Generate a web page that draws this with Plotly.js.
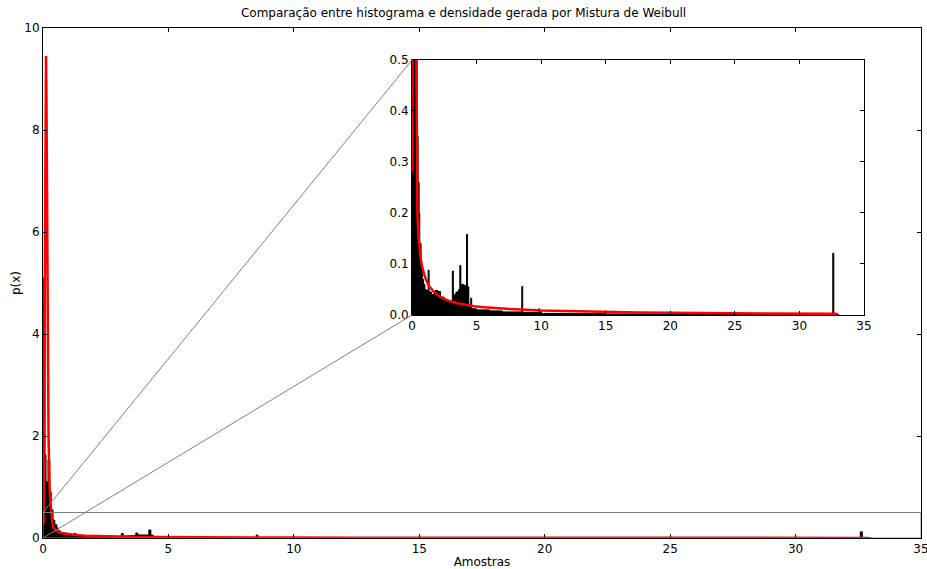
<!DOCTYPE html>
<html>
<head>
<meta charset="utf-8">
<script src="https://cdn.plot.ly/plotly-3.0.1.min.js"></script>
<style>html,body{margin:0;padding:0;background:#fff;}#chart{width:927px;height:569px;}</style>
</head>
<body>
<div id="chart"></div>
<script>
// Histogram: bin edges (left edges + final right edge) and bin heights
const histEdges = [0, 0.03, 0.08, 0.12, 0.2, 0.27, 0.33, 0.4, 0.47, 0.55,
  0.6, 0.7, 0.8, 0.9, 1.0, 1.1, 1.25, 1.32, 1.5, 1.7,
  1.8, 2.0, 2.2, 2.5, 2.8, 3.12, 3.2, 3.4, 3.6, 3.7,
  3.78, 4.0, 4.22, 4.3, 4.4, 4.55, 4.62, 5.0, 6.0, 7.0,
  8.5, 8.57, 9.8, 9.88, 10, 15, 20, 25, 32.58, 32.66, 33.0];
const histHeights = [0.28, 5.1, 1.63, 1.1, 1.53, 0.9, 0.55, 0.35, 0.26, 0.2,
  0.14, 0.1, 0.07, 0.06, 0.05, 0.048, 0.088, 0.045, 0.04, 0.042,
  0.048, 0.046, 0.035, 0.03, 0.028, 0.086, 0.04, 0.045, 0.05, 0.097,
  0.06, 0.058, 0.158, 0.055, 0.02, 0.033, 0.012, 0.01, 0.008, 0.006,
  0.056, 0.005, 0.012, 0.005, 0.003, 0.002, 0.0012, 0.0008, 0.121, 0.002];

// Weibull mixture density curve
const densX = [0.02, 0.05, 0.08, 0.1, 0.12, 0.14, 0.16, 0.19, 0.22, 0.26,
  0.3, 0.34, 0.38, 0.42, 0.48, 0.55, 0.65, 0.77, 1.0, 1.3,
  1.7, 2.2, 2.8, 3.5, 4.2, 4.8, 5.6, 6.6, 8, 10,
  12.5, 15, 17.5, 20, 25, 30, 32.9];
const densY = [0.28, 2.0, 6.0, 8.8, 9.45, 8.5, 6.0, 3.5, 2.0, 1.0,
  0.65, 0.45, 0.3, 0.2, 0.16, 0.135, 0.115, 0.096, 0.075, 0.057,
  0.045, 0.035, 0.028, 0.023, 0.019, 0.017, 0.015, 0.013, 0.011, 0.0086,
  0.007, 0.0058, 0.005, 0.0042, 0.0032, 0.0025, 0.0022];

const mainXTicks = [0, 5, 10, 15, 20, 25, 30, 35];
const mainYTicks = [0, 2, 4, 6, 8, 10];
const insetYTicks = [0.0, 0.1, 0.2, 0.3, 0.4, 0.5];

const titleText = 'Comparação entre histograma e densidade gerada por Mistura de Weibull';
const xTitle = 'Amostras';
const yTitle = 'p(x)';

const mainXRange = [0, 35], mainYRange = [0, 10];
const insetXRange = [0, 35], insetYRange = [0, 0.5];
const insetDomX = [0.4203, 0.9351], insetDomY = [0.4373, 0.9373];

const histY = histHeights.concat([0]);
const FONT = {family: 'DejaVu Sans', size: 12, color: '#000'};

function histTrace(xa, ya) {
  return {x: histEdges, y: histY, xaxis: xa, yaxis: ya, type: 'scatter', mode: 'lines',
    line: {shape: 'hv', color: '#000', width: 1}, fill: 'tozeroy', fillcolor: '#000',
    hoverinfo: 'skip', showlegend: false};
}
function densTrace(xa, ya) {
  return {x: densX, y: densY, xaxis: xa, yaxis: ya, type: 'scatter', mode: 'lines',
    line: {color: '#ff0000', width: 2.5}, hoverinfo: 'skip', showlegend: false};
}

const axisCommon = {showline: true, mirror: 'ticks', linecolor: '#000', linewidth: 1,
  ticks: 'inside', ticklen: 4, tickwidth: 1, tickcolor: '#000', showgrid: false,
  zeroline: false, tickfont: FONT, ticklabeloverflow: 'allow'};

const data = [histTrace('x', 'y'), densTrace('x', 'y'), histTrace('x2', 'y2'), densTrace('x2', 'y2')];

// connector geometry (paper coords) from main-axis data values
const px = v => (v - mainXRange[0]) / (mainXRange[1] - mainXRange[0]);
const py = v => (v - mainYRange[0]) / (mainYRange[1] - mainYRange[0]);
const gray = {color: '#808080', width: 1};

const layout = {
  width: 927, height: 569,
  margin: {l: 43, r: 6, t: 28, b: 31},
  paper_bgcolor: '#fff', plot_bgcolor: '#fff',
  font: FONT,
  title: {text: titleText, font: {family: 'DejaVu Sans', size: 12, color: '#000'},
    xref: 'paper', x: 0.479, xanchor: 'center', yref: 'container', y: 1 - 13 / 569, yanchor: 'middle'},
  xaxis: Object.assign({}, axisCommon, {domain: [0, 1], range: mainXRange, tickvals: mainXTicks,
    title: {text: xTitle, font: FONT, standoff: 2}, anchor: 'y'}),
  yaxis: Object.assign({}, axisCommon, {domain: [0, 1], range: mainYRange, tickvals: mainYTicks,
    title: {text: yTitle, font: FONT, standoff: 1}, anchor: 'x'}),
  xaxis2: Object.assign({}, axisCommon, {domain: insetDomX, range: insetXRange, tickvals: mainXTicks, anchor: 'y2'}),
  yaxis2: Object.assign({}, axisCommon, {domain: insetDomY, range: insetYRange, tickvals: insetYTicks,
    tickformat: '.1f', anchor: 'x2'}),
  shapes: [
    {type: 'rect', xref: 'x', yref: 'y', x0: insetXRange[0], x1: insetXRange[1], y0: insetYRange[0], y1: insetYRange[1],
      line: gray, layer: 'above'},
    {type: 'line', xref: 'paper', yref: 'paper', x0: px(insetXRange[0]), y0: py(insetYRange[1]),
      x1: insetDomX[0], y1: insetDomY[1], line: gray, layer: 'above'},
    {type: 'line', xref: 'paper', yref: 'paper', x0: px(insetXRange[0]), y0: py(insetYRange[0]),
      x1: insetDomX[0], y1: insetDomY[0], line: gray, layer: 'above'}
  ]
};

Plotly.newPlot('chart', data, layout, {staticPlot: true, displayModeBar: false});
</script>
</body>
</html>
